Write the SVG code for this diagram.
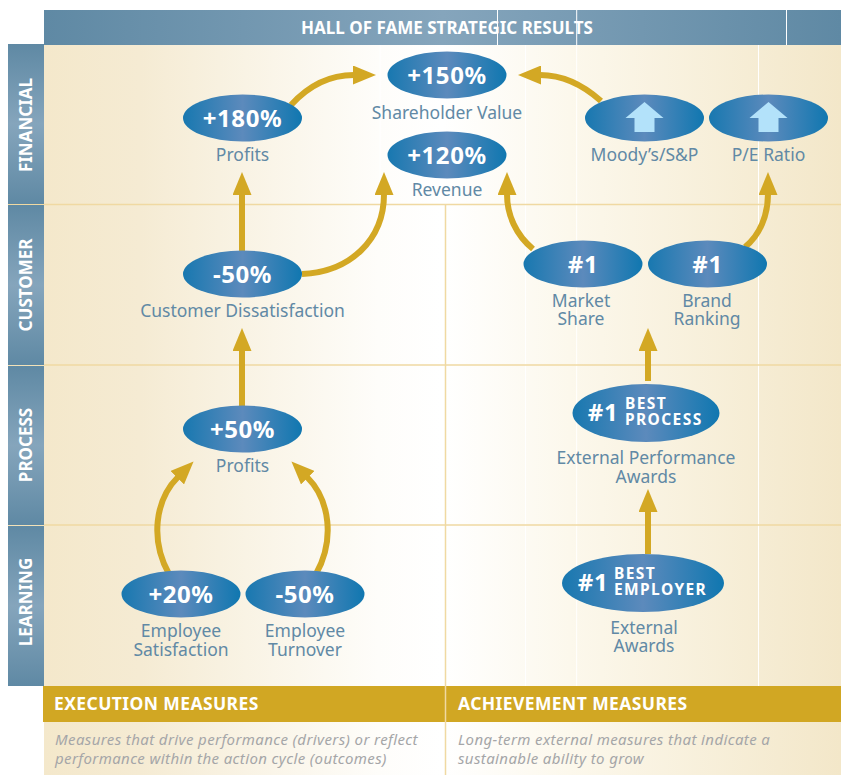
<svg xmlns="http://www.w3.org/2000/svg" width="841" height="775" viewBox="0 0 841 775">
<defs>
<linearGradient id="bg" x1="44" x2="841" y1="0" y2="0" gradientUnits="userSpaceOnUse"><stop offset="0" stop-color="#f4e8cb"/><stop offset="0.12" stop-color="#f5ebd3"/><stop offset="0.42" stop-color="#fefdfa"/><stop offset="0.5" stop-color="#ffffff"/><stop offset="0.66" stop-color="#fcf8ec"/><stop offset="1" stop-color="#f3e7c9"/></linearGradient>
<linearGradient id="hd" x1="44" x2="841" y1="0" y2="0" gradientUnits="userSpaceOnUse"><stop offset="0" stop-color="#5f89a4"/><stop offset="0.5" stop-color="#85a5bc"/><stop offset="1" stop-color="#5f89a4"/></linearGradient>
<linearGradient id="sd" x1="0" x2="0" y1="0" y2="1"><stop offset="0" stop-color="#5f89a4"/><stop offset="0.5" stop-color="#85a5bc"/><stop offset="1" stop-color="#5f89a4"/></linearGradient>
<linearGradient id="ov"><stop offset="0" stop-color="#1878b0"/><stop offset="0.5" stop-color="#5c8abc"/><stop offset="1" stop-color="#1077b0"/></linearGradient>
<marker id="ah" markerUnits="userSpaceOnUse" markerWidth="23" markerHeight="19" refX="1" refY="9.5" orient="auto"><path d="M0 0L23 9.5L0 19Z" fill="#d3a824"/></marker>
<path id="up" d="M0 -16L19 0H10V14H-10V0H-19Z" fill="#b3e2fa"/>
</defs>
<style>
text{font-family:"Noto Sans","Open Sans","Liberation Sans",sans-serif}
.lb{font-size:17.5px;fill:#6189a5;text-anchor:middle}
.v{font-size:24px;font-weight:700;fill:#fff;text-anchor:middle;letter-spacing:.6px}
.sm{font-size:15.500px;font-weight:700;fill:#fff;letter-spacing:1.4px}
.sd{font-size:17px;font-weight:700;fill:#fff;text-anchor:middle}
.hd{font-size:17px;font-weight:700;fill:#fff}
.ft{font-size:17.500px;font-weight:700;fill:#fff;letter-spacing:.4px}
.ds{font-size:15px;font-style:italic;fill:#a5a6a8;letter-spacing:.39px}
.c{fill:none;stroke:#d3a824;stroke-width:6;marker-end:url(#ah)}
.g{stroke:#f0d9a2;stroke-width:1.5}
.w{stroke:#fff;stroke-width:1}
</style>
<g id="background">
<rect x="44" y="45" width="797" height="730" fill="url(#bg)"/>
<path class="w" d="M380 45V204M525.500 45V686M576.700 45V686M758.500 45V686" fill="none"/>
<path class="g" d="M8 204.500H841M8 365H841M8 525H841M445.500 204V775" fill="none"/>
</g>
<g id="header"><rect x="44" y="10" width="797" height="35" fill="url(#hd)"/>
<path class="w" d="M497.500 10V45M576.700 10V45M786.500 10V45"/>
<text class="hd" x="447" y="34" text-anchor="middle">HALL OF FAME STRATEGIC RESULTS</text></g>
<g id="side-financial"><rect x="8" y="44" width="36" height="160" fill="url(#sd)"/><text class="sd" transform="translate(32 125) rotate(-90)">FINANCIAL</text></g>
<g id="side-customer"><rect x="8" y="205" width="36" height="160" fill="url(#sd)"/><text class="sd" transform="translate(32 285) rotate(-90)">CUSTOMER</text></g>
<g id="side-process"><rect x="8" y="366" width="36" height="159" fill="url(#sd)"/><text class="sd" transform="translate(32 445) rotate(-90)">PROCESS</text></g>
<g id="side-learning"><rect x="8" y="526" width="36" height="160" fill="url(#sd)"/><text class="sd" transform="translate(32 602) rotate(-90)">LEARNING</text></g>
<g id="connectors">
<path class="c" d="M291 105C310 84 332 75 354 75"/>
<path class="c" d="M601 101C582 84 562 75 540 75"/>
<path class="c" d="M242 258V194"/>
<path class="c" d="M302 274C350 272 384 240 384 194"/>
<path class="c" d="M533 249C516 235 507 215 507 194"/>
<path class="c" d="M745 247C760 235 768 215 768 194"/>
<path class="c" d="M648 381V350"/>
<path class="c" d="M648 554V511"/>
<path class="c" d="M242 408V350"/>
<path class="c" d="M169 574C150 540 155 500 178 477"/>
<path class="c" d="M316 574C335 540 330 500 307 477"/>
</g>
<g id="n-shareholder"><ellipse cx="447" cy="75" rx="59.500" ry="23.500" fill="url(#ov)"/><text class="v" x="447" y="84">+150%</text><text class="lb" x="447" y="119">Shareholder Value</text></g>
<g id="n-revenue"><ellipse cx="447" cy="155" rx="59.500" ry="23.500" fill="url(#ov)"/><text class="v" x="447" y="164">+120%</text><text class="lb" x="447" y="196">Revenue</text></g>
<g id="n-profits-fin"><ellipse cx="242.500" cy="118" rx="59.500" ry="23.500" fill="url(#ov)"/><text class="v" x="242.500" y="127">+180%</text><text class="lb" x="242.500" y="161">Profits</text></g>
<g id="n-moodys"><ellipse cx="644.500" cy="118" rx="59.500" ry="23.500" fill="url(#ov)"/><use href="#up" x="644.500" y="118"/><text class="lb" x="644.500" y="161">Moody’s/S&amp;P</text></g>
<g id="n-pe"><ellipse cx="768.500" cy="118" rx="59.500" ry="23.500" fill="url(#ov)"/><use href="#up" x="768.500" y="118"/><text class="lb" x="768.500" y="161">P/E Ratio</text></g>
<g id="n-dissat"><ellipse cx="242.500" cy="274" rx="59.500" ry="23.500" fill="url(#ov)"/><text class="v" x="242.500" y="283">-50%</text><text class="lb" x="242.500" y="317">Customer Dissatisfaction</text></g>
<g id="n-market"><ellipse cx="583" cy="264" rx="59.500" ry="23.500" fill="url(#ov)"/><text class="v" x="583" y="273">#1</text><text class="lb" x="581" y="307">Market</text><text class="lb" x="581" y="325">Share</text></g>
<g id="n-brand"><ellipse cx="707.500" cy="264" rx="59.500" ry="23.500" fill="url(#ov)"/><text class="v" x="707.500" y="273">#1</text><text class="lb" x="707" y="307">Brand</text><text class="lb" x="707" y="325">Ranking</text></g>
<g id="n-process"><ellipse cx="646" cy="413" rx="73.500" ry="29" fill="url(#ov)"/><text class="v" x="603" y="421">#1</text><text class="sm" x="625" y="409">BEST</text><text class="sm" x="625" y="425">PROCESS</text><text class="lb" x="646" y="464">External Performance</text><text class="lb" x="646" y="483">Awards</text></g>
<g id="n-profits-proc"><ellipse cx="242.500" cy="429" rx="59.500" ry="23.500" fill="url(#ov)"/><text class="v" x="242.500" y="438">+50%</text><text class="lb" x="242.500" y="472">Profits</text></g>
<g id="n-satisfaction"><ellipse cx="181" cy="594" rx="59.500" ry="23.500" fill="url(#ov)"/><text class="v" x="181" y="603">+20%</text><text class="lb" x="181" y="637">Employee</text><text class="lb" x="181" y="656">Satisfaction</text></g>
<g id="n-turnover"><ellipse cx="305" cy="594" rx="59.500" ry="23.500" fill="url(#ov)"/><text class="v" x="305" y="603">-50%</text><text class="lb" x="305" y="637">Employee</text><text class="lb" x="305" y="656">Turnover</text></g>
<g id="n-employer"><ellipse cx="643" cy="583" rx="81" ry="29" fill="url(#ov)"/><text class="v" x="593" y="591">#1</text><text class="sm" x="614" y="579">BEST</text><text class="sm" x="614" y="595">EMPLOYER</text><text class="lb" x="644" y="634">External</text><text class="lb" x="644" y="652">Awards</text></g>
<g id="footer">
<rect x="43" y="686" width="798" height="36" fill="#d1a723"/><path d="M445.500 686V722" stroke="#f0d9a2" stroke-width="1.500"/>
<text class="ft" x="54" y="710">EXECUTION MEASURES</text><text class="ft" x="458" y="710">ACHIEVEMENT MEASURES</text>
<text class="ds" x="55" y="745">Measures that drive performance (drivers) or reflect</text><text class="ds" x="55" y="764">performance within the action cycle (outcomes)</text>
<text class="ds" x="458" y="745">Long-term external measures that indicate a</text><text class="ds" x="458" y="764">sustainable ability to grow</text>
</g>
</svg>
